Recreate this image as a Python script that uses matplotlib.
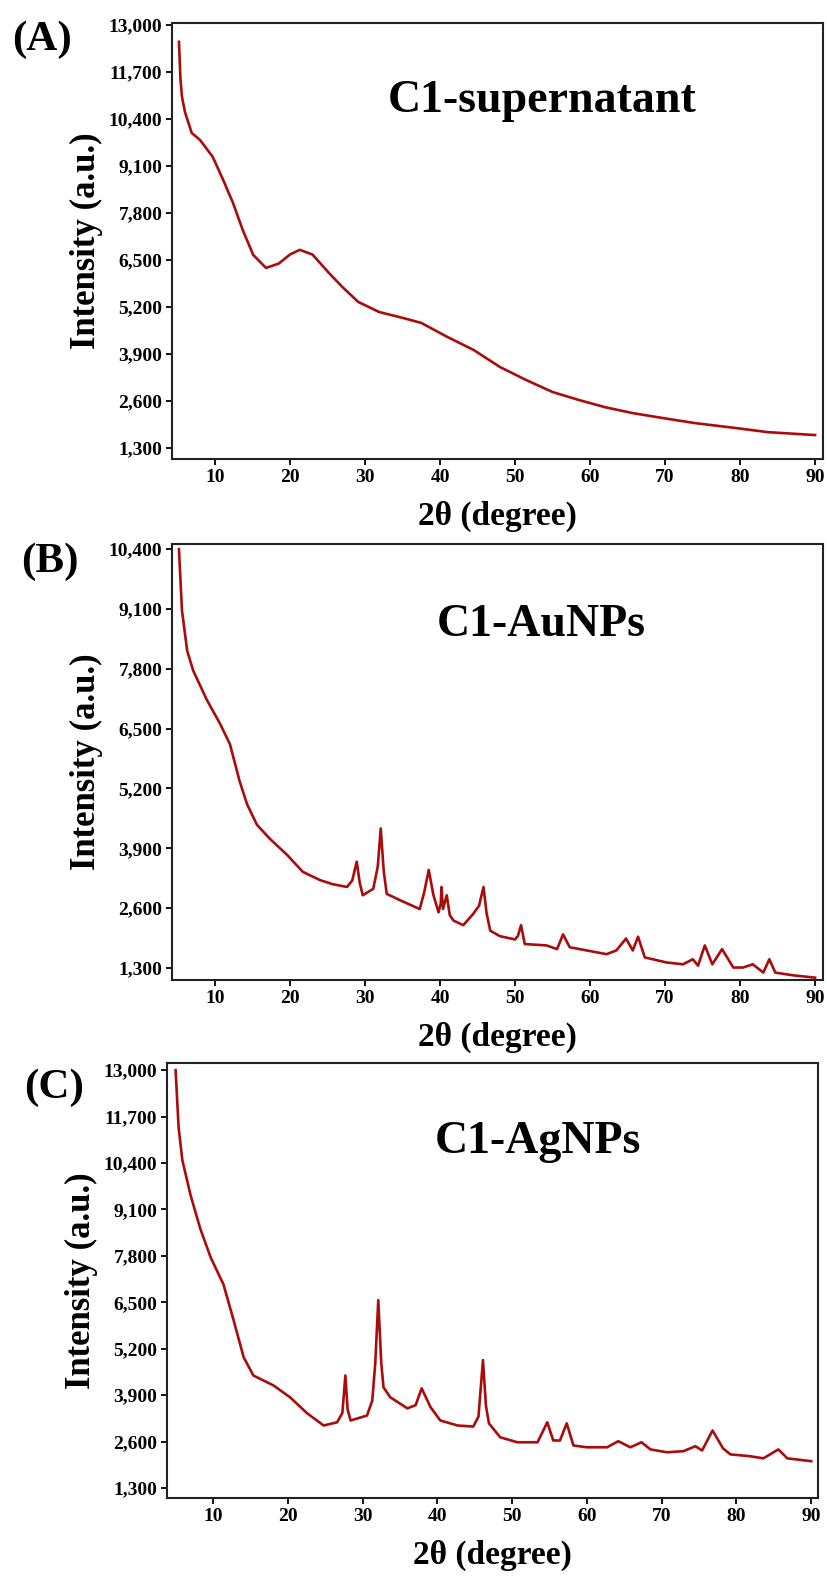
import matplotlib
matplotlib.use("Agg")
import matplotlib.pyplot as plt
import numpy as np

plt.rcParams['font.family'] = ['Liberation Serif', 'DejaVu Serif']
plt.rcParams['font.weight'] = 'bold'

line_color = '#AA0C0C'

# C1-supernatant
sup_x = [5.2, 5.4, 5.6, 6.0, 6.9, 8.0, 9.7, 11.1, 12.4, 13.7,
         15.1, 16.8, 18.5, 20.0, 21.3, 23.0, 25.2, 27.0, 29.1, 31.9,
         35.0, 37.5, 41.0, 44.5, 48.0, 51.5, 55.0, 58.5, 62.0, 65.6,
         69.7, 74.0, 79.6, 83.7, 90.0]
sup_y = [12530, 11500, 11010, 10590, 10010, 9820, 9350, 8710, 8080, 7330,
         6640, 6280, 6400, 6650, 6780, 6650, 6140, 5750, 5340, 5060,
         4900, 4760, 4370, 4010, 3540, 3180, 2850, 2630, 2430, 2270,
         2130, 1990, 1850, 1740, 1660]

# C1-AuNPs
au_x = [5.2, 5.6, 6.3, 7.1, 8.9, 10.7, 12.0, 13.3, 14.3, 15.6,
        17.3, 19.6, 21.7, 24.0, 25.7, 27.6, 28.3, 28.9, 29.3, 29.7,
        31.1, 31.7, 32.1, 32.5, 32.9, 34.7, 37.3, 37.9, 38.5, 39.1,
        39.8, 40.1, 40.2, 40.4, 40.9, 41.3, 41.8, 43.1, 44.4, 45.2,
        45.8, 46.2, 46.7, 48.0, 50.0, 50.4, 50.8, 51.3, 54.2, 55.6,
        56.4, 57.3, 59.6, 62.2, 63.5, 64.8, 65.7, 66.4, 67.3, 70.2,
        72.4, 73.7, 74.4, 75.3, 76.3, 77.6, 79.1, 80.4, 81.7, 83.1,
        83.9, 84.7, 87.1, 90.0]
au_y = [10400, 9070, 8190, 7760, 7130, 6600, 6160, 5350, 4850, 4410,
        4110, 3760, 3390, 3210, 3120, 3060, 3200, 3610, 3150, 2880,
        3020, 3500, 4330, 3400, 2910, 2770, 2580, 2950, 3430, 2900,
        2510, 2700, 3060, 2580, 2880, 2450, 2330, 2230, 2470, 2650,
        3060, 2500, 2110, 1990, 1920, 2000, 2230, 1820, 1790, 1710,
        2030, 1750, 1680, 1600, 1680, 1940, 1680, 1980, 1530, 1420,
        1380, 1490, 1350, 1790, 1380, 1710, 1310, 1310, 1380, 1200,
        1490, 1200, 1140, 1090]

# C1-AgNPs
ag_x = [5.0, 5.4, 5.9, 7.0, 8.3, 9.7, 11.4, 12.7, 14.1, 15.4,
        18.1, 20.3, 22.6, 24.8, 26.6, 27.3, 27.7, 28.0, 28.4, 30.6,
        31.3, 31.7, 32.1, 32.5, 32.8, 33.7, 36.0, 37.1, 37.9, 39.1,
        40.4, 42.7, 44.8, 45.5, 46.1, 46.5, 46.9, 48.4, 50.7, 53.4,
        54.7, 55.5, 56.4, 57.3, 58.2, 60.0, 62.7, 64.2, 65.8, 67.3,
        68.5, 70.7, 72.9, 74.5, 75.4, 76.8, 78.2, 79.2, 81.8, 83.6,
        85.6, 86.8, 90.0]
ag_y = [13000, 11400, 10480, 9500, 8560, 7750, 7000, 6040, 4960, 4450,
        4170, 3840, 3390, 3050, 3140, 3400, 4450, 3500, 3190, 3330,
        3750, 4800, 6560, 4800, 4120, 3840, 3530, 3620, 4090, 3560,
        3190, 3050, 3020, 3300, 4880, 3600, 3110, 2720, 2580, 2580,
        3140, 2630, 2630, 3110, 2490, 2440, 2440, 2610, 2440, 2580,
        2380, 2300, 2330, 2470, 2350, 2910, 2410, 2240, 2190, 2130,
        2380, 2130, 2050]

x_ticks = [10, 20, 30, 40, 50, 60, 70, 80, 90]
y_ticks_13k = [1300, 2600, 3900, 5200, 6500, 7800, 9100, 10400, 11700, 13000]
y_ticks_10k = [1300, 2600, 3900, 5200, 6500, 7800, 9100, 10400]


def panel(ax, x, y, name, yticks, xlim, ylim, name_pos):
    ax.plot(x, y, color=line_color, lw=1.9, solid_joinstyle='round')
    ax.set_xlim(*xlim)
    ax.set_ylim(*ylim)
    ax.set_xticks(x_ticks)
    ax.set_xticklabels([str(t) for t in x_ticks])
    ax.set_yticks(yticks)
    ax.set_yticklabels(["{:,}".format(t) for t in yticks])
    ax.tick_params(axis='both', direction='out', length=4, width=1.3,
                   labelsize=14, pad=3, top=False, right=False)
    for lab in ax.get_xticklabels() + ax.get_yticklabels():
        lab.set_fontweight('bold')
    for s in ax.spines.values():
        s.set_linewidth(1.5)
        s.set_color('#222222')
    ax.set_xlabel("2θ (degree)", fontsize=24, fontweight='bold', labelpad=11)
    ax.set_ylabel("Intensity (a.u.)", fontsize=25, fontweight='bold', labelpad=4)
    ax.text(name_pos[0], name_pos[1], name, transform=ax.transAxes,
            ha='center', va='baseline', fontsize=33, fontweight='bold')


fig = plt.figure(figsize=(8.28, 15.76), dpi=100)
ax_a = fig.add_axes([0.2077, 0.7088, 0.7862, 0.2766])
ax_b = fig.add_axes([0.2077, 0.3782, 0.7862, 0.2766])
ax_c = fig.add_axes([0.2017, 0.0495, 0.7862, 0.2760])

panel(ax_a, sup_x, sup_y, "C1-supernatant", y_ticks_13k,
      (4.27, 91.05), (1000, 13050), (0.568, 0.796))
panel(ax_b, au_x, au_y, "C1-AuNPs", y_ticks_10k,
      (4.27, 91.05), (1040, 10510), (0.568, 0.789))
panel(ax_c, ag_x, ag_y, "C1-AgNPs", y_ticks_13k,
      (3.85, 90.9), (1020, 13200), (0.570, 0.793))

H = 1576.0
W = 828.0
fig.text(42 / W, 1 - 50 / H, "(A)", ha='center', va='baseline', fontsize=31, fontweight='bold')
fig.text(50 / W, 1 - 572 / H, "(B)", ha='center', va='baseline', fontsize=31, fontweight='bold')
fig.text(54 / W, 1 - 1098 / H, "(C)", ha='center', va='baseline', fontsize=31, fontweight='bold')

plt.savefig("out.png", dpi=100)
plt.close()
